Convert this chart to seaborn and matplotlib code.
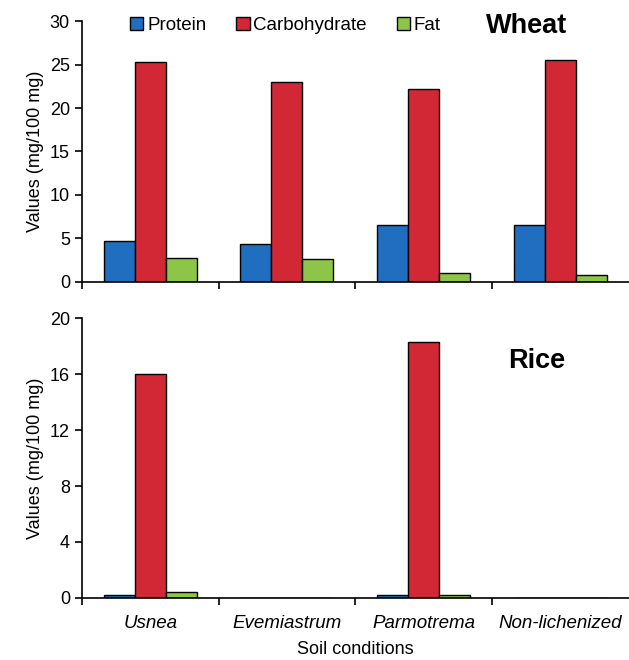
import matplotlib
matplotlib.use("Agg")
import matplotlib.pyplot as plt
import numpy as np
import pandas as pd
import seaborn as sns

# soil conditions and nutrient names
conditions = ["Usnea", "Evemiastrum", "Parmotrema", "Non-lichenized"]
nutrients = ["Protein", "Carbohydrate", "Fat"]

# wheat values (mg/100 mg)
wheat_protein = [4.7, 4.4, 6.5, 6.5]
wheat_carb = [25.3, 23.0, 22.2, 25.5]
wheat_fat = [2.7, 2.6, 1.0, 0.8]

# rice values (mg/100 mg)
rice_protein = [0.2, 0.0, 0.2, 0.0]
rice_carb = [16.0, 0.0, 18.3, 0.0]
rice_fat = [0.4, 0.0, 0.2, 0.0]

colors = ["#1F6EBF", "#D22836", "#8DC548"]

sns.set_theme(style="white")
plt.rcParams['font.family'] = ['Liberation Sans', 'DejaVu Sans']
plt.rcParams['text.color'] = 'black'
plt.rcParams['axes.labelcolor'] = 'black'
plt.rcParams['xtick.color'] = 'black'
plt.rcParams['ytick.color'] = 'black'


def long_table(p, c, f):
    rows = []
    for name, vals in zip(nutrients, [p, c, f]):
        for cond, v in zip(conditions, vals):
            rows.append({"condition": cond, "nutrient": name, "value": v})
    return pd.DataFrame(rows)


fig = plt.figure(figsize=(6.29, 6.6), dpi=100)
ax1 = fig.add_axes([0.130, 0.573, 0.870, 0.395])
ax2 = fig.add_axes([0.130, 0.094, 0.870, 0.424])

for ax, df, ylim, yticks in [
    (ax1, long_table(wheat_protein, wheat_carb, wheat_fat), 30, [0, 5, 10, 15, 20, 25, 30]),
    (ax2, long_table(rice_protein, rice_carb, rice_fat), 20, [0, 4, 8, 12, 16, 20]),
]:
    sns.barplot(data=df, x="condition", y="value", hue="nutrient",
                palette=colors, width=0.68, edgecolor="black", linewidth=1.0,
                saturation=1, ax=ax)
    ax.set_xlim(-0.5, 3.5)
    ax.set_ylim(0, ylim)
    ax.set_yticks(yticks)
    ax.set_ylabel("Values (mg/100 mg)", fontsize=13)
    ax.set_xlabel("")
    ax.set_xticks([-0.5, 0.5, 1.5, 2.5])
    ax.set_xticklabels([])
    ax.tick_params(axis="both", which="major", direction="out", length=5,
                   width=1.2, color="black", labelsize=13, left=True, bottom=True)
    for s in ["top", "right"]:
        ax.spines[s].set_visible(False)
    for s in ["left", "bottom"]:
        ax.spines[s].set_color("black")
        ax.spines[s].set_linewidth(1.2)

# category labels under the bottom panel
ax2.set_xticks(np.arange(len(conditions)), minor=True)
ax2.set_xticklabels(conditions, minor=True, fontstyle="italic", fontsize=13.5)
ax2.tick_params(axis="x", which="minor", length=0, pad=12)
ax2.set_xlabel("Soil conditions", fontsize=13, labelpad=7)

leg = ax1.legend(ncol=3, loc="upper left", bbox_to_anchor=(0.075, 1.045),
                 frameon=False, fontsize=13.5, handlelength=0.7, handleheight=0.7,
                 handletextpad=0.2, columnspacing=1.6, borderaxespad=0)
ax2.get_legend().remove()

ax1.text(0.738, 1.03, "Wheat", transform=ax1.transAxes, fontsize=19.5,
         fontweight="bold", va="top", ha="left")
ax2.text(0.78, 0.895, "Rice", transform=ax2.transAxes, fontsize=19.5,
         fontweight="bold", va="top", ha="left")

fig.savefig("out.png", dpi=100)
